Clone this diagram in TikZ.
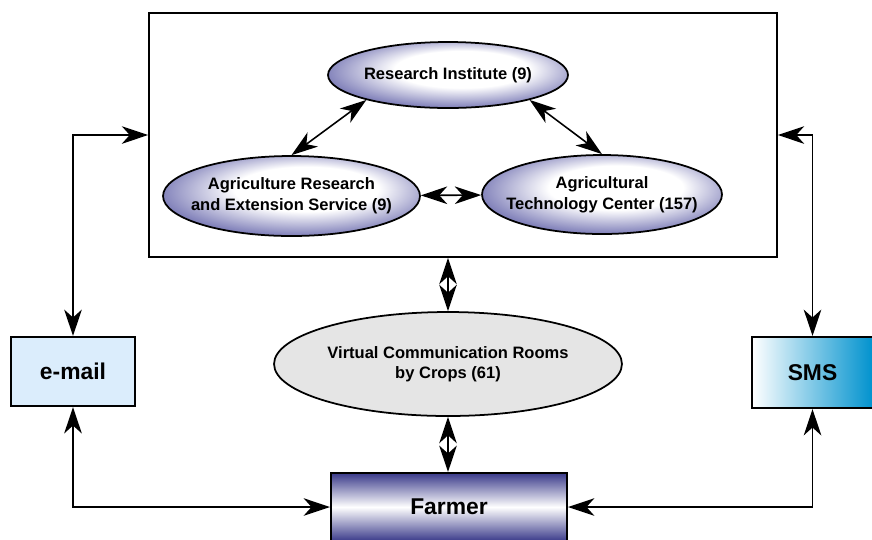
\documentclass[tikz,border=0pt]{standalone}
\usepackage{fontspec}
\setmainfont{Liberation Sans}
\usetikzlibrary{positioning, shapes.geometric, arrows.meta}
\definecolor{ovalrim}{RGB}{104,104,172}
\definecolor{farmerblue}{RGB}{58,58,138}
\definecolor{smsblue}{RGB}{0,146,206}
\definecolor{mailblue}{RGB}{219,237,252}
\definecolor{roomgray}{RGB}{229,229,229}
\pgfdeclareradialshading{ovalglow}{\pgfpoint{4bp}{6bp}}{color(0bp)=(white); color(14bp)=(white); color(30bp)=(ovalrim); color(50bp)=(ovalrim)}
\tikzset{
    inst/.style={ellipse, draw=black, line width=1pt, shading=ovalglow, inner xsep=-40pt, inner ysep=-20pt, align=center, font=\bfseries\fontsize{9.4}{12}\selectfont},
    room/.style={ellipse, draw=black, line width=1pt, fill=roomgray, inner xsep=-40pt, inner ysep=-20pt, align=center, font=\bfseries\fontsize{9.4}{11.5}\selectfont},
    channel/.style={rectangle, draw=black, line width=1.2pt, inner sep=0pt, font=\bfseries\fontsize{13}{15}\selectfont},
    link/.style={<->, line width=0.9pt, >={Stealth[length=15pt, width=10pt, inset=4.5pt]}},
}
\begin{document}
\begin{tikzpicture}[x=0.02cm, y=-0.02cm]
    \useasboundingbox (0,0) rectangle (872,539);
    \node [draw, line width=1pt, minimum width=12.56cm, minimum height=4.88cm] (panel) at (463,135) {};
    \node [inst, minimum width=4.8cm, minimum height=1.32cm] (ri) at (448,75) {Research Institute (9)};
    \node [inst, minimum width=5.14cm, minimum height=1.6cm] (ares) at (291.5,196) {Agriculture Research\\and Extension Service (9)};
    \node [inst, minimum width=4.8cm, minimum height=1.58cm] (atc) at (602,194.5) {Agricultural\\Technology Center (157)};
    \node [room, minimum width=6.96cm, minimum height=2.08cm] (rooms) at (448,364) {Virtual Communication Rooms\\by Crops (61)};
    \node [channel, fill=mailblue, minimum width=2.48cm, minimum height=1.38cm] (email) at (73,371.5) {e-mail};
    \node [channel, left color=white, right color=smsblue, minimum width=2.42cm, minimum height=1.42cm] (sms) at (812.5,372.5) {SMS};
    \node [channel, top color=farmerblue, bottom color=farmerblue, middle color=white, minimum width=4.72cm, minimum height=1.36cm] (farmer) at (449,507) {Farmer};
    \draw[link] (email.north) |- (panel.west);
    \draw[link] (sms.north) |- (panel.east);
    \draw[link] (email.south) |- (farmer.west);
    \draw[link] (sms.south) |- (farmer.east);
    \draw[link] (ri.197) -- (ares.north);
    \draw[link] (ri.-17) -- (atc.north);
    \draw[link] (ares) -- (atc);
    \draw[link] (rooms.north) -- (rooms.north |- panel.south);
    \draw[link] (rooms.south) -- (rooms.south |- farmer.north);
\end{tikzpicture}
\end{document}
